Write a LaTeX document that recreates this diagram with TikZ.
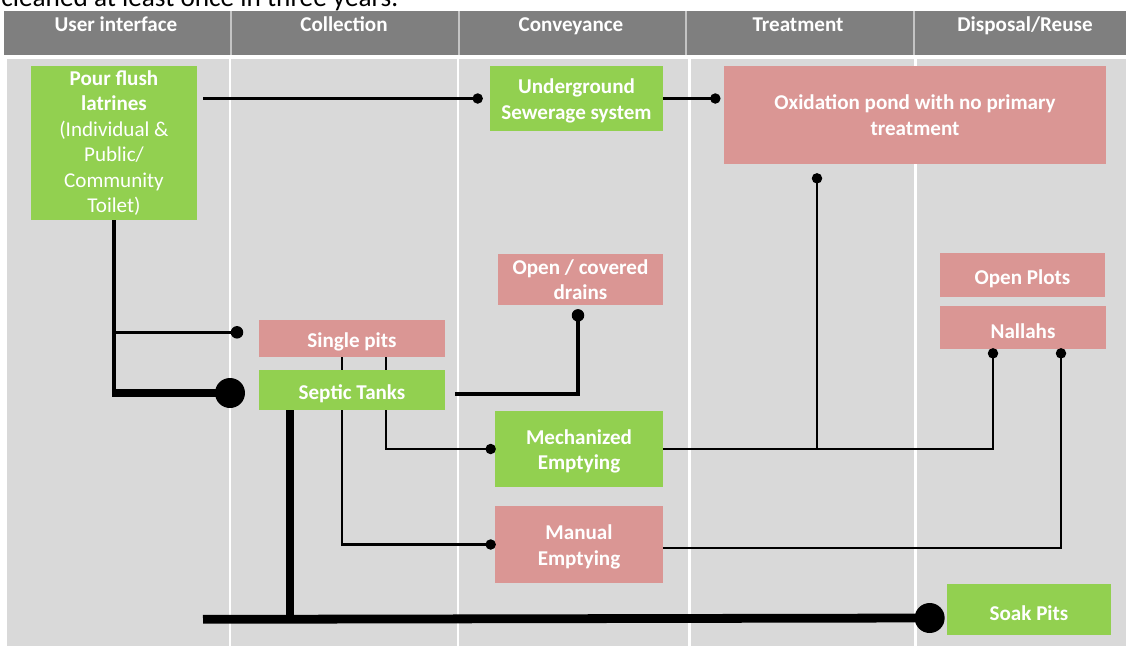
\documentclass[tikz,border=0pt]{standalone}
\usepackage{fontspec}
\setmainfont{Carlito}
\usetikzlibrary{calc}
\definecolor{hdgray}{HTML}{7F7F7F}
\definecolor{bggray}{HTML}{D9D9D9}
\definecolor{sepgray}{HTML}{C4C4C4}
\definecolor{lgreen}{HTML}{92D050}
\definecolor{lpink}{HTML}{DA9694}

\begin{document}
\begin{tikzpicture}[x=0.02cm, y=-0.02cm, font=\fontsize{12}{14.5}\selectfont,
  box/.style={text=white, font=\fontsize{12}{14.5}\selectfont\bfseries, align=center, inner sep=2pt},
  greenbox/.style={box, fill=lgreen},
  pinkbox/.style={box, fill=lpink},
  oneline/.style={text height=12.3pt},
  twoline/.style={text height=25.6pt},
  conn/.style={line width=1.8pt},
  thinconn/.style={line width=1.2pt},
  heavyconn/.style={line width=5pt},
  smalldot/.style={circle, fill=black, inner sep=0pt, minimum size=0.21cm},
  middot/.style={smalldot, minimum size=0.25cm},
  bigdot/.style={circle, fill=black, inner sep=0pt, minimum size=0.6cm},
  headtext/.style={anchor=base, text=white, inner sep=0pt, font=\fontsize{12}{14}\selectfont\bfseries}]
\useasboundingbox (0,0) rectangle (1126,646);
\fill[white] (0,0) rectangle (1126,646);
% ---- cut-off page text above the figure ----
\node[anchor=base west, inner sep=0pt, font=\fontsize{15.5}{18}\selectfont] (pagetext) at (1,6) {cleaned at least once in three years.};
% ---- header bar ----
\fill[hdgray] (4,11) rectangle (1126,55);
\foreach \x in {231,459,686,914}
  \draw[sepgray, line width=1.2pt] (\x,11) -- (\x,55);
\node[headtext] (huser) at (116,31) {User interface};
\node[headtext] (hcoll) at (344,31) {Collection};
\node[headtext] (hconv) at (571,31) {Conveyance};
\node[headtext] (htreat) at (798,31) {Treatment};
\node[headtext] (hdisp) at (1025,31) {Disposal/Reuse};
% ---- body with column lines ----
\fill[bggray] (7,59) rectangle (1126,646);
\foreach \x in {230,458,689,915}
  \draw[white, line width=1.7pt] (\x,59) -- (\x,646);
% ---- boxes ----
\node[greenbox, minimum width=3.32cm, minimum height=3.08cm] (latr) at (114,143)
  {Pour flush\\latrines\\\mdseries(Individual \&\\\mdseries Public/\\\mdseries Community\\\mdseries Toilet)};
\node[greenbox, twoline, minimum width=3.46cm, minimum height=1.3cm] (sew) at (576.5,98.5) {Underground\\Sewerage system};
\node[pinkbox, minimum width=7.64cm, minimum height=1.96cm] (oxi) at (915,115) {Oxidation pond with no primary\\treatment};
\node[pinkbox, minimum width=3.3cm, minimum height=1.02cm] (drains) at (580.5,279.5) {Open / covered\\drains};
\node[pinkbox, oneline, minimum width=3.3cm, minimum height=0.88cm] (plots) at (1022.5,275) {Open Plots};
\node[pinkbox, oneline, minimum width=3.32cm, minimum height=0.86cm] (nallahs) at (1023,327.5) {Nallahs};
\node[pinkbox, oneline, minimum width=3.72cm, minimum height=0.74cm] (single) at (352,338.5) {Single pits};
\node[greenbox, oneline, minimum width=3.72cm, minimum height=0.8cm] (septic) at (352,390) {Septic Tanks};
\node[greenbox, twoline, minimum width=3.36cm, minimum height=1.52cm] (mech) at (579,449) {Mechanized\\Emptying};
\node[pinkbox, twoline, minimum width=3.36cm, minimum height=1.54cm] (manual) at (579,544.5) {Manual\\Emptying};
\node[greenbox, oneline, minimum width=3.28cm, minimum height=1.02cm] (soak) at (1029,609.5) {Soak Pits};
% ---- connectors ----
\draw[conn] (latr.east |- sew.west) ++(6,0) -- ($(sew.west)+(-12,0)$) node[smalldot] {};
\draw[conn] (sew.east) -- ++(52,0) node[smalldot] {};
\draw[conn] (latr.south) -- ++(0,177);
\draw[conn] (latr.south) ++(0,112) -- ++(123,0) node[middot] {};
\draw[heavyconn] (latr.south |- septic.west) ++(0,3) -- ++(116,0) node[bigdot] {};
% pits and tanks to emptying (lines pass behind the septic box)
\draw[thinconn] ($(single.south)+(34,0)$) -- ($(septic.north)+(34,0)$);
\draw[thinconn] ($(single.south)+(-10,0)$) -- ($(septic.north)+(-10,0)$);
\draw[thinconn] ($(septic.south)+(34,0)$) |- ($(mech.west)+(-4,0)$) node[smalldot] {};
\draw[thinconn] ($(septic.south)+(-10,0)$) |- ($(manual.west)+(-4,0)$) node[smalldot] {};
\draw[conn] ($(septic.east)+(10,4)$) -| ($(drains.south)+(-2.5,10)$) node[middot] {};
% septic tanks to soak pits
\draw[heavyconn] ($(septic.south)+(-62,0)$) -- ++(0,209) coordinate (tee);
\draw[heavyconn] ($(tee)+(-87,0)$) -- ($(soak.west)+(-17,8.5)$) node[bigdot] {};
% emptying to treatment and disposal
\coordinate (oxdot) at ($(oxi.south)+(-98,14)$);
\draw[thinconn] (mech.east) -| ($(nallahs.south)+(-30,4)$) node[smalldot] {};
\draw[thinconn] (oxdot) node[smalldot] {} -- (oxdot |- mech.east);
\draw[thinconn] ($(manual.east)+(0,3.5)$) -| ($(nallahs.south)+(38,4)$) node[smalldot] {};
\end{tikzpicture}
\end{document}
